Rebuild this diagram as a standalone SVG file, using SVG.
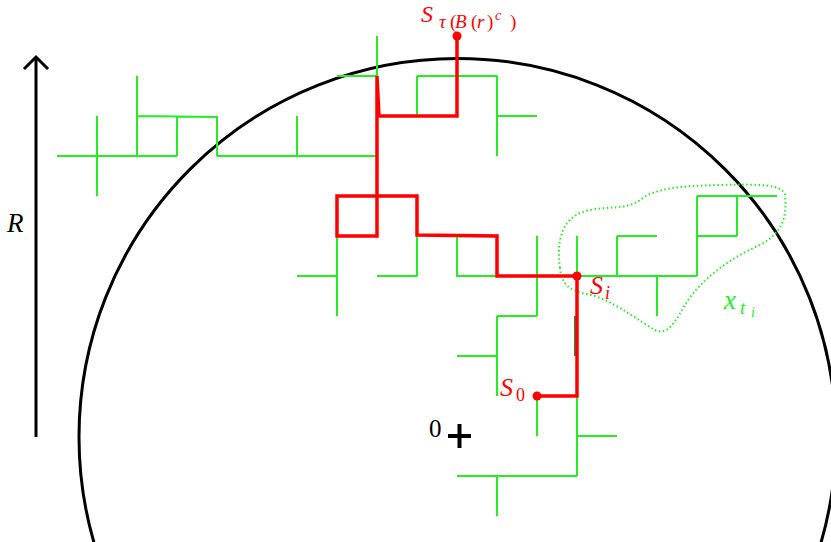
<svg xmlns="http://www.w3.org/2000/svg" width="831" height="542" viewBox="0 0 831 542">
<style>
.g{fill:none;stroke:#22ee22;stroke-width:2;stroke-linecap:butt}
.r{fill:none;stroke:#ff0000;stroke-width:3.5;stroke-linejoin:miter}
.k{fill:none;stroke:#000;stroke-width:3}
.t{font-family:"Liberation Serif","Times New Roman",serif;font-style:italic}
.u{font-style:normal}
</style>
<rect width="831" height="542" fill="#fff"/>
<g id="ball">
<circle cx="457.5" cy="437" r="378.5" class="k"/>
</g>
<g id="axis">
<line x1="36" y1="437" x2="36" y2="58" class="k"/>
<polyline points="24,69 36,57 48,69" class="k"/>
<text x="7" y="232" class="t" font-size="27" fill="#000">R</text>
</g>
<g id="origin">
<path d="M448,436 H471 M459.5,424 V448" stroke="#000" stroke-width="4" fill="none"/>
<text x="429" y="437" font-family="Liberation Serif, serif" font-size="25" fill="#000">0</text>
</g>
<g id="tree">
<path class="g" d="M57,156 H177 M97,116 V196 M137,76 V156 M137,116 L217,117 M177,116 V156 M217,116 V156 M217,156 H377 M297,116 V156
M377,36 V76 M337,76 H377 M417,76 H497 M417,76 V116 M497,76 V156 M497,116 H537
M377,196 H417 M337,236 V316 M297,276 H337 M377,276 H417 M417,236 V276 M457,236 V276 H497
M537,236 V316 M497,316 H537 M497,316 V396 M457,356 H497
M577,236 V276 M577,276 H697 M617,236 V276 M617,236 H657 M657,276 V316 M697,196 V276 M697,196 H777 M697,236 H737 M737,196 V236
M537,396 V436 M577,396 V476 M577,436 H617 M457,476 H577 M497,476 V516"/>
<path d="M575,316 V356" stroke="#2e8a2e" stroke-width="2"/>
</g>
<g id="blob">
<path d="M560,268 C556,240 562,215 590,210 C610,206 625,210 640,200 C655,188 680,186 720,185 C760,184 782,184 785,195 C787,215 784,232 760,245 C730,258 700,280 685,305 C675,322 668,336 655,330 C640,322 620,305 595,296 C580,292 562,292 560,268 Z" fill="none" stroke="#22ee22" stroke-width="2" stroke-dasharray="1.5 2.6"/>
<text class="t" fill="#22ee22"><tspan x="724" y="309" font-size="27">x</tspan><tspan x="740" y="314" font-size="19">t</tspan><tspan x="751" y="317" font-size="14">i</tspan></text>
</g>
<g id="walk">
<path class="r" d="M537,396 H577 V276 H497 V236 L417,235 V196 H337 V236 H377 V76 L379,116 H457 V36"/>
<circle cx="537" cy="396" r="4.5" fill="#ff0000"/>
<circle cx="577" cy="276" r="4.5" fill="#ff0000"/>
<circle cx="457" cy="36" r="4.5" fill="#ff0000"/>
</g>
<g id="labels" fill="#ff0000">
<text class="t"><tspan x="500" y="396" font-size="26">S</tspan><tspan class="u" x="516" y="401" font-size="18">0</tspan></text>
<text class="t"><tspan x="590" y="294" font-size="26">S</tspan><tspan x="605" y="299" font-size="18">i</tspan></text>
<text class="t"><tspan x="421" y="22" font-size="24">S</tspan><tspan x="439" y="28" font-size="19">τ</tspan><tspan class="u" x="450" y="28" font-size="19">(</tspan><tspan x="455" y="28" font-size="19">B</tspan><tspan class="u" x="471" y="28" font-size="19">(</tspan><tspan x="477" y="28" font-size="19">r</tspan><tspan class="u" x="487" y="28" font-size="19">)</tspan><tspan x="495" y="20" font-size="14">c</tspan><tspan class="u" x="510" y="28" font-size="19">)</tspan></text>
</g>
</svg>
